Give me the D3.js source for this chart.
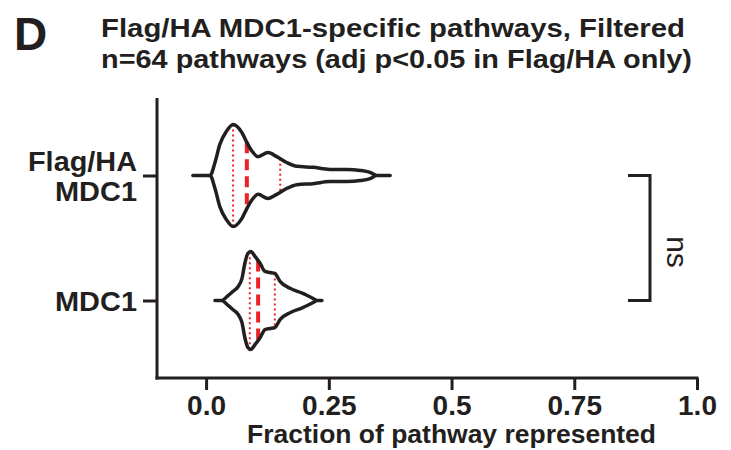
<!DOCTYPE html>
<html><head><meta charset="utf-8">
<script src="https://cdn.jsdelivr.net/npm/d3@7"></script>
<style>body{margin:0;background:#fff}svg{display:block}text{font-family:"Liberation Sans",Arial,Helvetica,sans-serif;fill:#231f20}</style>
</head><body>
<svg id="c" width="731" height="450"></svg>
<script>
// ---- data ----
const categories = ["Flag/HA MDC1", "MDC1"];
const categoryLines = [["Flag/HA", "MDC1"], ["MDC1"]];
// violin profiles: value (fraction) and relative density
const v1Values = [-0.027, 0.008, 0.018, 0.028, 0.041, 0.055, 0.073, 0.083, 0.094, 0.106, 0.126, 0.144, 0.165, 0.185, 0.218, 0.252, 0.287, 0.314, 0.334, 0.348, 0.375];
const v1Density = [0, 0, 0.25, 0.61, 0.86, 1, 0.84, 0.65, 0.47, 0.37, 0.45, 0.37, 0.25, 0.18, 0.16, 0.12, 0.12, 0.10, 0.06, 0, 0];
const v2Values = [0.018, 0.032, 0.043, 0.055, 0.065, 0.073, 0.079, 0.085, 0.091, 0.100, 0.110, 0.120, 0.130, 0.140, 0.151, 0.171, 0.197, 0.218, 0.226, 0.236];
const v2Density = [0, 0, 0.08, 0.18, 0.27, 0.43, 0.73, 0.92, 0.96, 0.86, 0.73, 0.57, 0.55, 0.53, 0.37, 0.24, 0.14, 0.04, 0, 0];
// quartiles [Q1, median, Q3]
const v1Quartiles = [0.055, 0.083, 0.151];
const v2Quartiles = [0.089, 0.106, 0.140];
const xTicks = [0, 0.25, 0.5, 0.75, 1.0];
const xTickLabels = ["0.0", "0.25", "0.5", "0.75", "1.0"];
const titleLines = ["Flag/HA MDC1-specific pathways, Filtered", "n=64 pathways (adj p<0.05 in Flag/HA only)"];
const xTitle = "Fraction of pathway represented";
const sigLabel = "ns";
const panelLabel = "D";

// ---- layout ----
const svg = d3.select("#c");
const ink = "#231f20", red = "#ec2227";
const x = d3.scaleLinear().domain([-0.1, 1.0]).range([157, 697]);
const y = d3.scalePoint().domain(categories).range([98, 378]).padding(0.62);
const w = d3.scaleLinear().domain([0, 1]).range([0, 51]);

function fitText(sel, width) {
  sel.each(function () {
    const L = this.getComputedTextLength();
    if (Math.abs(L - width) > 2) { d3.select(this).attr("textLength", width).attr("lengthAdjust", "spacingAndGlyphs"); }
  });
}

// panel label and title
svg.append("text").attr("x", 14).attr("y", 50).attr("font-size", 46).attr("font-weight", "bold").text(panelLabel);
const tw = [584, 591];
titleLines.forEach((t, i) => {
  svg.append("text").attr("x", 101).attr("y", 37 + i * 31).attr("font-size", 26).attr("font-weight", "bold").text(t).call(fitText, tw[i]);
});

// violins
const violins = [
  {cat: categories[0], vals: v1Values, dens: v1Density, q: v1Quartiles},
  {cat: categories[1], vals: v2Values, dens: v2Density, q: v2Quartiles}
];
function interp(vals, dens, v) {
  for (let i = 0; i < vals.length - 1; i++) {
    if (v >= vals[i] && v <= vals[i + 1]) {
      const t = (v - vals[i]) / (vals[i + 1] - vals[i]);
      return dens[i] + t * (dens[i + 1] - dens[i]);
    }
  }
  return 0;
}
violins.forEach(vd => {
  const cy = y(vd.cat);
  const pts = vd.vals.map((v, i) => ({v, d: vd.dens[i]}));
  const area = d3.area().x(p => x(p.v)).y0(p => cy - w(p.d)).y1(p => cy + w(p.d)).curve(d3.curveMonotoneX);
  // quartile lines
  vd.q.forEach((qv, i) => {
    const hw = w(interp(vd.vals, vd.dens, qv));
    svg.append("line").attr("x1", x(qv)).attr("x2", x(qv)).attr("y1", cy - hw).attr("y2", cy + hw)
      .attr("stroke", red)
      .attr("stroke-width", i === 1 ? 4 : 2)
      .attr("stroke-dasharray", i === 1 ? "11,6" : "2,3");
  });
  svg.append("path").datum(pts).attr("d", area).attr("fill", "none").attr("stroke", ink).attr("stroke-width", 3.5).attr("stroke-linejoin", "round");
});

// x axis
const xAxis = svg.append("g").attr("transform", "translate(0,378)")
  .call(d3.axisBottom(x).tickValues(xTicks).tickFormat((d, i) => xTickLabels[i]).tickSize(12).tickSizeOuter(0));
xAxis.select(".domain").attr("stroke", ink).attr("stroke-width", 3);
xAxis.selectAll(".tick line").attr("stroke", ink).attr("stroke-width", 3);
xAxis.selectAll(".tick text").attr("font-size", 28).attr("font-weight", "bold").attr("fill", ink)
  .attr("font-family", '"Liberation Sans",Arial,sans-serif').attr("y", 17).attr("dy", "0.71em");
xAxis.select(".domain").attr("d", `M${x.range()[0] - 1.5},0H${x.range()[1] + 1.5}`);

svg.append("text").attr("x", x(0.5)).attr("y", 443).attr("text-anchor", "middle").attr("font-size", 26).attr("font-weight", "bold").text(xTitle).call(fitText, 409);

// y axis
const yAxis = svg.append("g").attr("transform", "translate(157,0)")
  .call(d3.axisLeft(y).tickSize(14).tickSizeOuter(0).tickFormat(""));
yAxis.select(".domain").attr("stroke", ink).attr("stroke-width", 3).attr("d", "M0,98V379.5");
yAxis.selectAll(".tick line").attr("stroke", ink).attr("stroke-width", 3);
const labelW = {"Flag/HA": 109, "MDC1": 82};
categories.forEach((c, i) => {
  const lines = categoryLines[i];
  const lh = 30;
  const cy = y(c);
  const base0 = cy + 10 - (lines.length - 1) * lh / 2;
  lines.forEach((l, j) => {
    svg.append("text").attr("x", 137).attr("y", base0 + j * lh).attr("text-anchor", "end").attr("font-size", 27).attr("font-weight", "bold").text(l).call(fitText, labelW[l]);
  });
});

// significance bracket
const yTop = y(categories[0]), yBot = y(categories[1]);
svg.append("path").attr("d", `M628,${yTop}H650V${yBot}H628`).attr("fill", "none").attr("stroke", ink).attr("stroke-width", 3);
svg.append("text").attr("transform", `translate(667,${(yTop + yBot) / 2 + 14}) rotate(90)`).attr("text-anchor", "middle").attr("font-size", 30).text(sigLabel);
</script>
</body></html>
